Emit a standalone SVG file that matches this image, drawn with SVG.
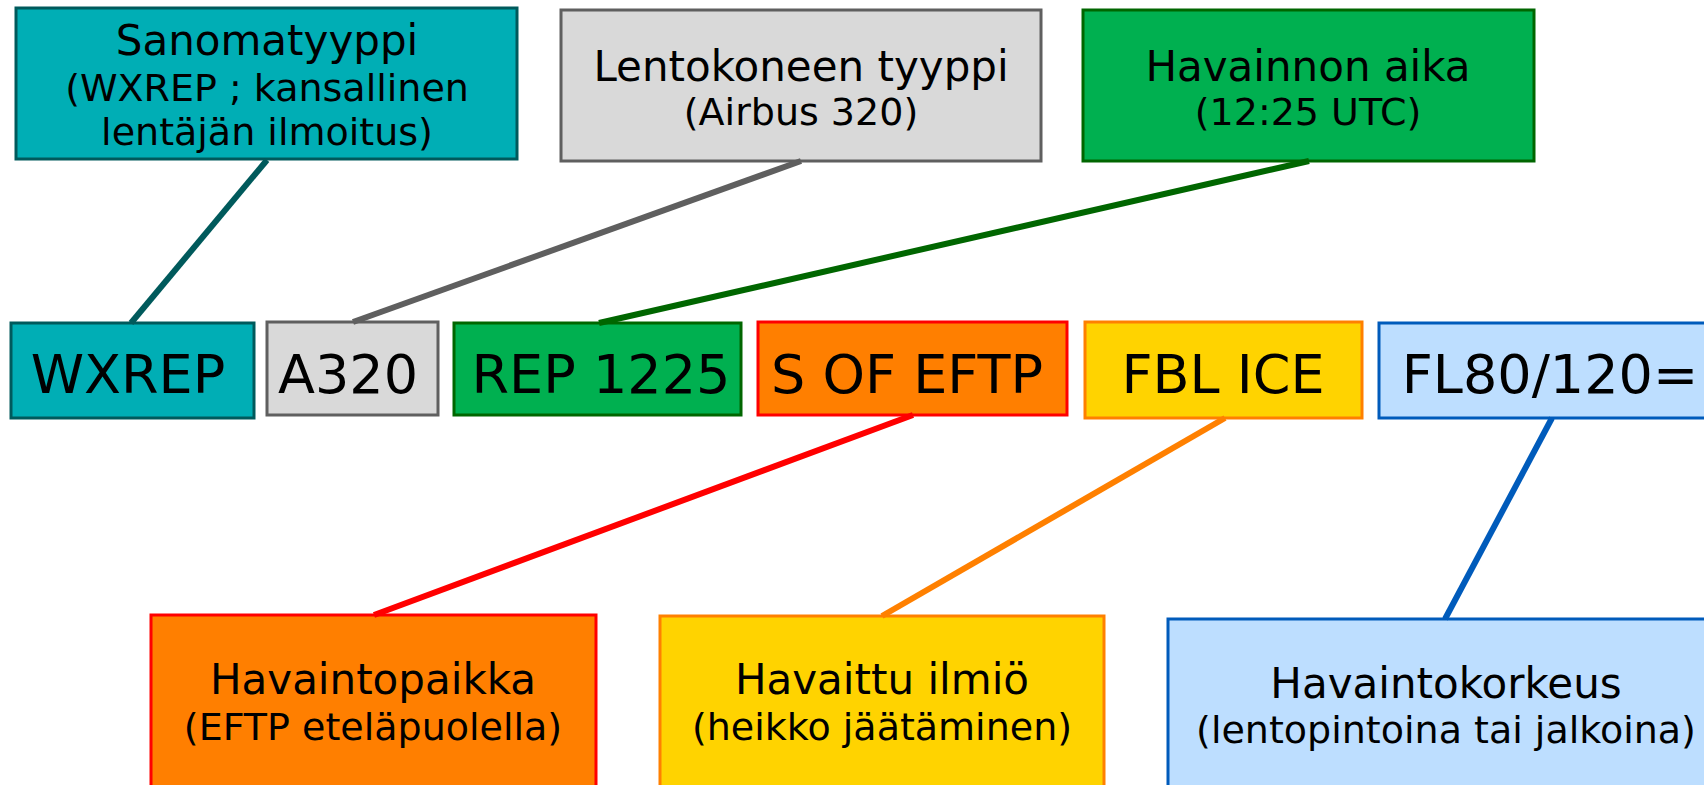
<svg xmlns="http://www.w3.org/2000/svg" width="1704" height="785" viewBox="0 0 1704 785">
  <style>
    text { font-family: "DejaVu Sans", Verdana, sans-serif; fill: #000; text-anchor: middle; }
    .t { font-size: 42px; }
    .s { font-size: 38px; }
    .c { font-size: 54px; }
    .box { stroke-width: 3; }
    .teal { fill: #00aeb5; stroke: #005a5c; }
    .gray { fill: #d9d9d9; stroke: #5f5f5f; }
    .green { fill: #00b050; stroke: #006600; }
    .orange { fill: #ff7f00; stroke: #ff0000; }
    .yellow { fill: #ffd300; stroke: #ff8000; }
    .blue { fill: #bddeff; stroke: #005bbb; }
    .link { fill: none; stroke-width: 6; }
  </style>

  <!-- top row: field descriptions -->
  <g id="sanomatyyppi">
    <rect class="box teal" x="16" y="8" width="501" height="151"/>
    <text class="t" x="267" y="55">Sanomatyyppi</text>
    <text class="s" x="267" y="101">(WXREP ; kansallinen</text>
    <text class="s" x="267" y="145">lentäjän ilmoitus)</text>
  </g>
  <g id="lentokoneen-tyyppi">
    <rect class="box gray" x="561" y="10" width="480" height="151"/>
    <text class="t" x="801" y="81">Lentokoneen tyyppi</text>
    <text class="s" x="801" y="125">(Airbus 320)</text>
  </g>
  <g id="havainnon-aika">
    <rect class="box green" x="1083" y="10" width="451" height="151"/>
    <text class="t" x="1308" y="81">Havainnon aika</text>
    <text class="s" x="1308" y="125">(12:25 UTC)</text>
  </g>

  <!-- middle row: the report groups -->
  <g id="wxrep">
    <rect class="box teal" x="11" y="323" width="243" height="95"/>
    <text class="c" x="128" y="393">WXREP</text>
  </g>
  <g id="a320">
    <rect class="box gray" x="267" y="322" width="171" height="93"/>
    <text class="c" x="348" y="393">A320</text>
  </g>
  <g id="rep1225">
    <rect class="box green" x="454" y="323" width="287" height="92"/>
    <text class="c" x="601" y="393">REP 1225</text>
  </g>
  <g id="s-of-eftp">
    <rect class="box orange" x="758" y="322" width="309" height="93"/>
    <text class="c" x="907" y="393">S OF EFTP</text>
  </g>
  <g id="fbl-ice">
    <rect class="box yellow" x="1085" y="322" width="277" height="96"/>
    <text class="c" x="1223" y="393">FBL ICE</text>
  </g>
  <g id="fl80-120">
    <rect class="box blue" x="1379" y="323" width="340" height="95"/>
    <text class="c" x="1550" y="393">FL80/120=</text>
  </g>

  <!-- bottom row: field descriptions -->
  <g id="havaintopaikka">
    <rect class="box orange" x="151" y="615" width="445" height="180"/>
    <text class="t" x="373" y="694">Havaintopaikka</text>
    <text class="s" x="373" y="740">(EFTP eteläpuolella)</text>
  </g>
  <g id="havaittu-ilmio">
    <rect class="box yellow" x="660" y="616" width="444" height="180"/>
    <text class="t" x="882" y="694">Havaittu ilmiö</text>
    <text class="s" x="882" y="740">(heikko jäätäminen)</text>
  </g>
  <g id="havaintokorkeus">
    <rect class="box blue" x="1168" y="619" width="550" height="180"/>
    <text class="t" x="1446" y="698">Havaintokorkeus</text>
    <text class="s" x="1446" y="743">(lentopintoina tai jalkoina)</text>
  </g>

  <!-- connectors -->
  <g id="connectors" class="link">
    <line x1="267" y1="160" x2="131" y2="323" stroke="#005a5c"/>
    <line x1="801" y1="161" x2="353" y2="322" stroke="#5f5f5f"/>
    <line x1="1309" y1="161" x2="599" y2="323" stroke="#006600"/>
    <line x1="913" y1="415" x2="374" y2="615" stroke="#ff0000"/>
    <line x1="1225" y1="418" x2="882" y2="616" stroke="#ff8000"/>
    <line x1="1552" y1="418" x2="1445" y2="619" stroke="#005bbb"/>
  </g>
</svg>
